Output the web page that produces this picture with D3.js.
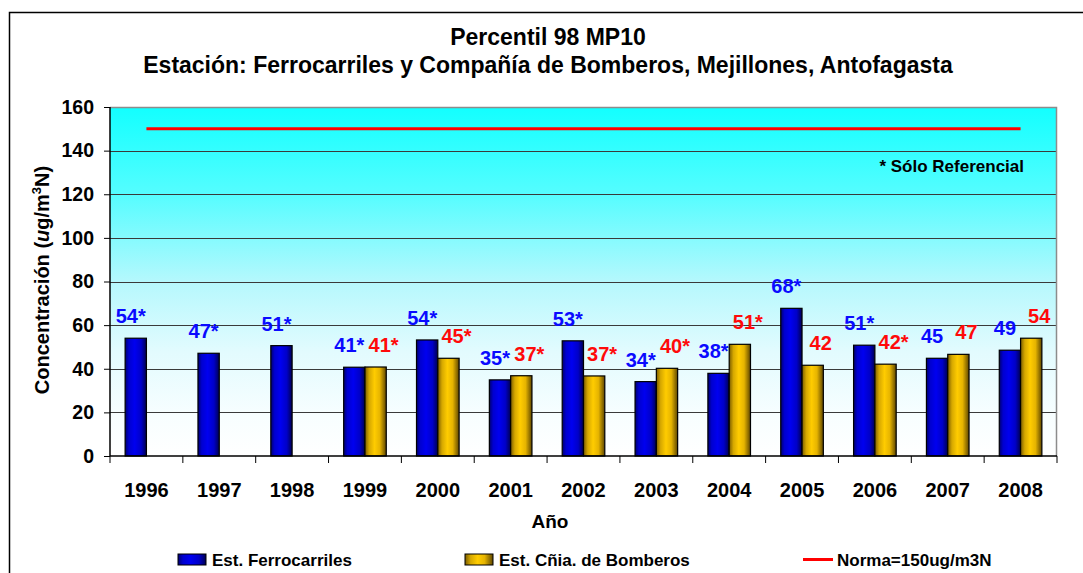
<!DOCTYPE html>
<html>
<head>
<meta charset="utf-8">
<script src="https://cdn.jsdelivr.net/npm/d3@7"></script>
<style>
  html, body { margin: 0; padding: 0; background: #fff; }
  svg { display: block; }
  text { font-family: "Liberation Sans", Arial, sans-serif; font-weight: bold; }
</style>
</head>
<body>
<svg id="chart" width="1083" height="573"></svg>
<script>
// ---- data ----
const years = ["1996","1997","1998","1999","2000","2001","2002","2003","2004","2005","2006","2007","2008"];
const ferrocarriles = [54, 47.1, 50.6, 40.7, 53.2, 34.9, 52.8, 34.1, 37.9, 67.7, 50.8, 44.8, 48.5];
const bomberos = [null, null, null, 40.8, 44.8, 36.8, 36.7, 40.2, 51.2, 41.6, 42.1, 46.6, 54];
const ferroLabels = ["54*","47*","51*","41*","54*","35*","53*","34*","38*","68*","51*","45","49"];
const bomberosLabels = [null, null, null, "41*","45*","37*","37*","40*","51*","42","42*","47","54"];
const norma = 150;
const yTicks = [0, 20, 40, 60, 80, 100, 120, 140, 160];
const seriesNames = ["Est. Ferrocarriles", "Est. Cñia. de Bomberos"];
const normaName = "Norma=150ug/m3N";
const title1 = "Percentil 98 MP10";
const title2 = "Estación: Ferrocarriles y Compañía de Bomberos, Mejillones, Antofagasta";
const note = "* Sólo Referencial";

// ---- layout ----
const svg = d3.select("#chart");
const W = 1083, H = 573;
const plot = { left: 110, right: 1057, top: 107, bottom: 456 };

const x0 = d3.scaleBand().domain(years).range([plot.left, plot.right]).padding(0);
const x1 = d3.scaleBand().domain([0, 1]).range([0, x0.bandwidth()]).paddingInner(0).paddingOuter(0.71);
const y = d3.scaleLinear().domain([0, 160]).range([plot.bottom, plot.top]);

const defs = svg.append("defs");
const bg = defs.append("linearGradient").attr("id", "bg").attr("x1", 0).attr("y1", 0).attr("x2", 0).attr("y2", 1);
[[0, "#12FFFF"], [0.25, "#55FDFF"], [0.5, "#B5F8FD"], [0.7, "#E2FBFE"], [0.88, "#F7FEFF"], [1, "#FFFFFF"]]
  .forEach(([o, c]) => bg.append("stop").attr("offset", o).attr("stop-color", c));

const gBlue = defs.append("linearGradient").attr("id", "gBlue").attr("x1", 0).attr("y1", 0).attr("x2", 1).attr("y2", 0);
[[0, "#000070"], [0.18, "#0000D0"], [0.45, "#0000F0"], [0.75, "#0000C8"], [1, "#000050"]]
  .forEach(([o, c]) => gBlue.append("stop").attr("offset", o).attr("stop-color", c));
const gGold = defs.append("linearGradient").attr("id", "gGold").attr("x1", 0).attr("y1", 0).attr("x2", 1).attr("y2", 0);
[[0, "#7A5C00"], [0.2, "#D6A800"], [0.45, "#FFCC00"], [0.7, "#E6B400"], [1, "#5E4600"]]
  .forEach(([o, c]) => gGold.append("stop").attr("offset", o).attr("stop-color", c));

// outer border
svg.append("rect").attr("x", 9.5).attr("y", 12.5).attr("width", W + 20).attr("height", H + 20)
  .attr("fill", "#fff").attr("stroke", "#000").attr("stroke-width", 1.5);

// titles
svg.append("text").attr("x", 548).attr("y", 45).attr("text-anchor", "middle")
  .attr("font-size", 23).text(title1);
svg.append("text").attr("x", 548).attr("y", 73).attr("text-anchor", "middle")
  .attr("font-size", 23).text(title2);

// plot background
svg.append("rect").attr("x", plot.left).attr("y", plot.top)
  .attr("width", plot.right - plot.left).attr("height", plot.bottom - plot.top)
  .attr("fill", "url(#bg)");

// gridlines
svg.append("g").selectAll("line").data(yTicks.filter(d => d > 0 && d < 160)).join("line")
  .attr("x1", plot.left).attr("x2", plot.right)
  .attr("y1", d => Math.round(y(d)) + 0.5).attr("y2", d => Math.round(y(d)) + 0.5)
  .attr("stroke", "#3a3a3a").attr("stroke-width", 1);

// plot frame top/right
svg.append("path")
  .attr("d", `M${plot.left},${plot.top + 0.5}H${plot.right - 0.5}V${plot.bottom}`)
  .attr("fill", "none").attr("stroke", "#8c8c8c").attr("stroke-width", 1.5);

// norma line
svg.append("line")
  .attr("x1", x0(years[0]) + x0.bandwidth() / 2)
  .attr("x2", x0(years[years.length - 1]) + x0.bandwidth() / 2)
  .attr("y1", y(norma)).attr("y2", y(norma))
  .attr("stroke", "#FF0000").attr("stroke-width", 3);

// note
svg.append("text").attr("x", 1024).attr("y", 172).attr("text-anchor", "end")
  .attr("font-size", 17).text(note);

// bars
const rows = years.map((yr, i) => ({ yr, i, vals: [ferrocarriles[i], bomberos[i]] }));
const groups = svg.append("g").selectAll("g").data(rows).join("g")
  .attr("transform", d => `translate(${x0(d.yr)},0)`);
groups.selectAll("rect")
  .data(d => d.vals.map((v, k) => ({ v, k })).filter(e => e.v != null))
  .join("rect")
  .attr("x", e => x1(e.k)).attr("width", x1.bandwidth())
  .attr("y", e => y(e.v)).attr("height", e => y(0) - y(e.v))
  .attr("fill", e => e.k === 0 ? "url(#gBlue)" : "url(#gGold)")
  .attr("stroke", "#000").attr("stroke-width", 1.2);

// data labels
groups.each(function (d) {
  const g = d3.select(this);
  const lbls = [ferroLabels[d.i], bomberosLabels[d.i]];
  d.vals.forEach((v, k) => {
    if (v == null || lbls[k] == null) return;
    g.append("text")
      .attr("x", x1(k) + x1.bandwidth() / 2 + (k === 0 ? -5 : 8))
      .attr("y", y(v) - 22).attr("dy", "0.35em")
      .attr("text-anchor", "middle").attr("font-size", 20)
      .attr("fill", k === 0 ? "#0A0AFF" : "#FF0A0A")
      .text(lbls[k]);
  });
});

// y axis
const yAxis = svg.append("g").attr("transform", `translate(${plot.left},0)`)
  .call(d3.axisLeft(y).tickValues(yTicks).tickSize(6).tickPadding(10));
yAxis.select(".domain").attr("stroke", "#000").attr("stroke-width", 1.5).attr("d", `M0,${plot.top}V${plot.bottom}`);
yAxis.selectAll(".tick line").attr("stroke", "#000");
yAxis.selectAll(".tick text").attr("font-size", 19.5).attr("font-family", "Liberation Sans, Arial, sans-serif").attr("font-weight", "bold").attr("fill", "#000");

// x axis
const xAxis = svg.append("g").attr("transform", `translate(0,${plot.bottom})`)
  .call(d3.axisBottom(x0).tickSize(0).tickPadding(27));
xAxis.select(".domain").attr("stroke", "#000").attr("stroke-width", 1.5).attr("d", `M${plot.left},0H${plot.right}`);
xAxis.selectAll(".tick text").attr("font-size", 20).attr("font-family", "Liberation Sans, Arial, sans-serif").attr("font-weight", "bold").attr("fill", "#000");
xAxis.append("g").selectAll("line").data(years.concat(["end"])).join("line")
  .attr("x1", d => d === "end" ? plot.right : x0(d)).attr("x2", d => d === "end" ? plot.right : x0(d))
  .attr("y1", 0).attr("y2", 7).attr("stroke", "#000").attr("stroke-width", 1);

// axis titles
svg.append("text").attr("x", 550).attr("y", 528).attr("text-anchor", "middle")
  .attr("font-size", 19).text("Año");
const yt = svg.append("text").attr("transform", "translate(49,280) rotate(-90)")
  .attr("text-anchor", "middle").attr("font-size", 20);
yt.append("tspan").text("Concentración (");
yt.append("tspan").attr("font-style", "italic").text("u");
yt.append("tspan").text("g/m");
yt.append("tspan").attr("font-size", 13).attr("dy", -8).text("3");
yt.append("tspan").attr("dy", 8).text("N)");

// legend
const leg = svg.append("g");
const legItems = [
  { x: 178, type: "rect", fill: "url(#gBlue)", label: seriesNames[0] },
  { x: 465, type: "rect", fill: "url(#gGold)", label: seriesNames[1] },
  { x: 803, type: "line", label: normaName }
];
legItems.forEach(it => {
  if (it.type === "rect") {
    leg.append("rect").attr("x", it.x).attr("y", 554).attr("width", 28).attr("height", 11)
      .attr("fill", it.fill).attr("stroke", "#000").attr("stroke-width", 1);
  } else {
    leg.append("line").attr("x1", it.x).attr("x2", it.x + 30).attr("y1", 559.5).attr("y2", 559.5)
      .attr("stroke", "#FF0000").attr("stroke-width", 3);
  }
  leg.append("text").attr("x", it.x + 34).attr("y", 566)
    .attr("font-size", 17).text(it.label);
});
</script>
</body>
</html>
